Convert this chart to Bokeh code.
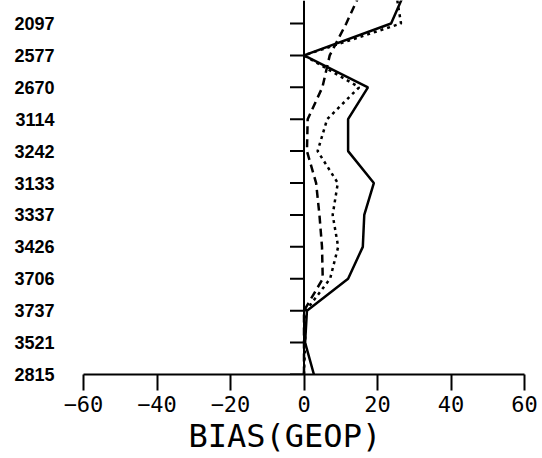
from bokeh.plotting import figure
from bokeh.models import Range1d, FixedTicker, Span, Title
from bokeh.embed import file_html
from bokeh.resources import INLINE

# Levels from the bottom (at the x axis) to the top; the last one runs off the top edge
levels = ["2815", "3521", "3737", "3706", "3426", "3337", "3133", "3242",
          "3114", "2670", "2577", "2097", ""]
solid = [2.7, 0.3, 0.8, 12, 16, 16.4, 19, 12, 12, 17.4, 0, 23.7, 27.5]
dotted = [0, 0.3, 0.5, 7.1, 9.3, 7.8, 9.2, 3.7, 6.3, 15, 0, 26.4, 25]
dashed = [0, 0, 0, 5.1, 4.9, 4.2, 3.3, 0.8, 1, 5, 7, 11.5, 15.5]
x_ticks = [-60, -40, -20, 0, 20, 40, 60]
x_label = "BIAS(GEOP)"

ys = list(range(len(levels)))
visible = [i for i, lab in enumerate(levels) if lab]

p = figure(width=542, height=458, output_backend="svg", toolbar_location=None,
           x_range=Range1d(x_ticks[0], x_ticks[-1]),
           y_range=Range1d(0, visible[-1] + 0.72),
           min_border_left=83, min_border_right=18,
           min_border_top=0, min_border_bottom=84)
p.grid.visible = False
p.outline_line_color = None
p.background_fill_color = "white"
p.border_fill_color = "white"

xa = p.xaxis[0]
xa.ticker = FixedTicker(ticks=x_ticks)
xa.major_label_text_font = "DejaVu Sans Mono"
xa.major_label_text_font_size = "22px"
xa.major_label_text_color = "black"
xa.major_tick_out = 16
xa.major_tick_in = 0
xa.major_tick_line_width = 2
xa.major_tick_line_color = "black"
xa.minor_tick_line_color = None
xa.axis_line_width = 2
xa.axis_line_color = "black"
xa.major_label_standoff = 5

p.add_layout(Title(text=x_label, align="left", offset=105, standoff=0,
                   vertical_align="bottom",
                   text_font="DejaVu Sans Mono", text_font_size="32px",
                   text_font_style="normal", text_color="black"), "below")

ya = p.yaxis[0]
ya.ticker = FixedTicker(ticks=visible)
ya.major_label_overrides = {i: levels[i] for i in visible}
ya.axis_line_color = None
ya.major_tick_line_color = None
ya.major_tick_out = 0
ya.major_tick_in = 0
ya.minor_tick_line_color = None
ya.major_label_standoff = 29
ya.major_label_text_font = "Liberation Sans"
ya.major_label_text_font_style = "bold"
ya.major_label_text_font_size = "18px"
ya.major_label_text_color = "black"

# vertical axis at zero with ticks to its left
p.add_layout(Span(location=0, dimension="height", line_color="black", line_width=2))
px_per_unit = (542 - 83 - 18) / (x_ticks[-1] - x_ticks[0])
tick_len = 14 / px_per_unit
p.segment(x0=[-tick_len] * len(ys), y0=ys, x1=[0] * len(ys), y1=ys,
          line_color="black", line_width=2)

p.line(solid, ys, line_color="black", line_width=2.5)
p.line(dashed, ys, line_color="black", line_width=2.5, line_dash="8 5")
p.line(dotted, ys, line_color="black", line_width=2.5, line_dash="3 4")

open("out.html", "w").write(file_html(p, INLINE))
